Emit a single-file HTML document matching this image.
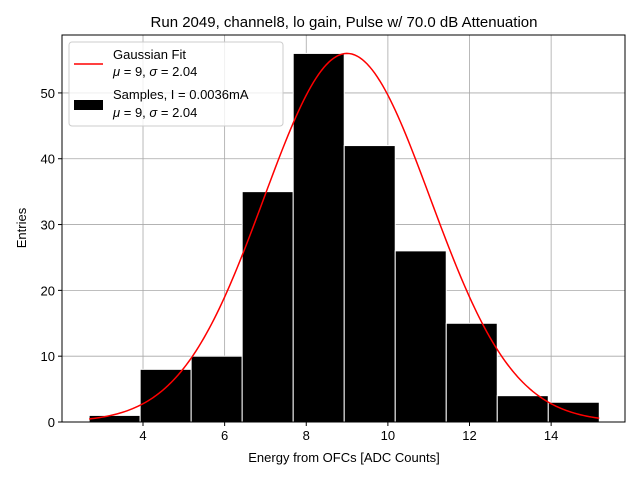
<!DOCTYPE html>
<html><head><meta charset="utf-8"><style>
body{margin:0;background:#fff}
svg text{font-family:"Liberation Sans","DejaVu Sans",sans-serif;fill:#000}
</style></head><body>
<svg id="c" width="640" height="480" xmlns="http://www.w3.org/2000/svg">
<rect width="640" height="480" fill="#fff"/>
<text x="344" y="27" font-size="15" text-anchor="middle">Run 2049, channel8, lo gain, Pulse w/ 70.0 dB Attenuation</text>
<g id="grid"></g><g id="bars"></g><g id="fit"></g><g id="axes"></g>
<text x="344" y="462" font-size="13" text-anchor="middle">Energy from OFCs [ADC Counts]</text>
<text x="26" y="228" font-size="13" text-anchor="middle" transform="rotate(-90 26 228)">Entries</text>
<g>
<rect x="69" y="42" width="214" height="84" rx="3" fill="#fff" fill-opacity="0.8" stroke="#ccc"/>
<line x1="74" y1="64" x2="103" y2="64" stroke="red" stroke-width="1.5"/>
<text x="113" y="59" font-size="13">Gaussian Fit</text>
<text x="113" y="76" font-size="13"><tspan font-style="italic">μ</tspan> = 9, <tspan font-style="italic">σ</tspan> = 2.04</text>
<rect x="74" y="100" width="29" height="10" fill="#000"/>
<text x="113" y="99" font-size="13">Samples, I = 0.0036mA</text>
<text x="113" y="117" font-size="13"><tspan font-style="italic">μ</tspan> = 9, <tspan font-style="italic">σ</tspan> = 2.04</text>
</g>
</svg>
<script>
const binStart=2.68, binWidth=1.25;
const counts=[1,8,10,35,56,42,26,15,4,3];
const xTicks=[4,6,8,10,12,14];
const yTicks=[0,10,20,30,40,50];
const fitMu=9, fitSigma=2.04, fitAmp=56;
const L=62,R=625,T=35,B=422;
const xmin=2.015,xmax=15.81,ymax=58.8;
const X=v=>L+(v-xmin)/(xmax-xmin)*(R-L);
const Y=v=>B-v/ymax*(B-T);
const NS="http://www.w3.org/2000/svg";
function mk(t,a,p){const e=document.createElementNS(NS,t);for(const k in a)e.setAttribute(k,a[k]);p.appendChild(e);return e;}
const g=document.getElementById('grid'),ba=document.getElementById('bars'),fi=document.getElementById('fit'),ax=document.getElementById('axes');
xTicks.forEach(v=>{const l=mk('line',{x1:X(v),x2:X(v),y1:T,y2:B,stroke:'#a8a8a8','stroke-width':0.8},g);


mk('line',{x1:X(v),x2:X(v),y1:B,y2:B+4,stroke:'#000'},ax);
const t=mk('text',{x:X(v),y:B+18,'font-size':13,'text-anchor':'middle'},ax);t.textContent=v;

});
yTicks.forEach(v=>{const l=mk('line',{x1:L,x2:R,y1:Y(v),y2:Y(v),stroke:'#a8a8a8','stroke-width':0.8},g);


mk('line',{x1:L-4,x2:L,y1:Y(v),y2:Y(v),stroke:'#000'},ax);
const t=mk('text',{x:L-7,y:Y(v)+5,'font-size':13,'text-anchor':'end'},ax);t.textContent=v;

});
counts.forEach((c,i)=>{const x0=X(binStart+i*binWidth),x1=X(binStart+(i+1)*binWidth);
const r=mk('rect',{x:x0,y:Y(c),width:x1-x0,height:B-Y(c),fill:'#000',stroke:'#fff','stroke-width':1},ba);

});
let d='';const e0=binStart,e1=binStart+counts.length*binWidth;
for(let i=0;i<=200;i++){const v=e0+(e1-e0)*i/200;const y=fitAmp*Math.exp(-0.5*((v-fitMu)/fitSigma)**2);d+=(i?'L':'M')+X(v).toFixed(2)+','+Y(y).toFixed(2);}
const p=mk('path',{d:d,fill:'none',stroke:'red','stroke-width':1.5},fi);


const f=mk('rect',{x:L,y:T,width:R-L,height:B-T,fill:'none',stroke:'#000','stroke-width':1},ax);


</script>
</body></html>
